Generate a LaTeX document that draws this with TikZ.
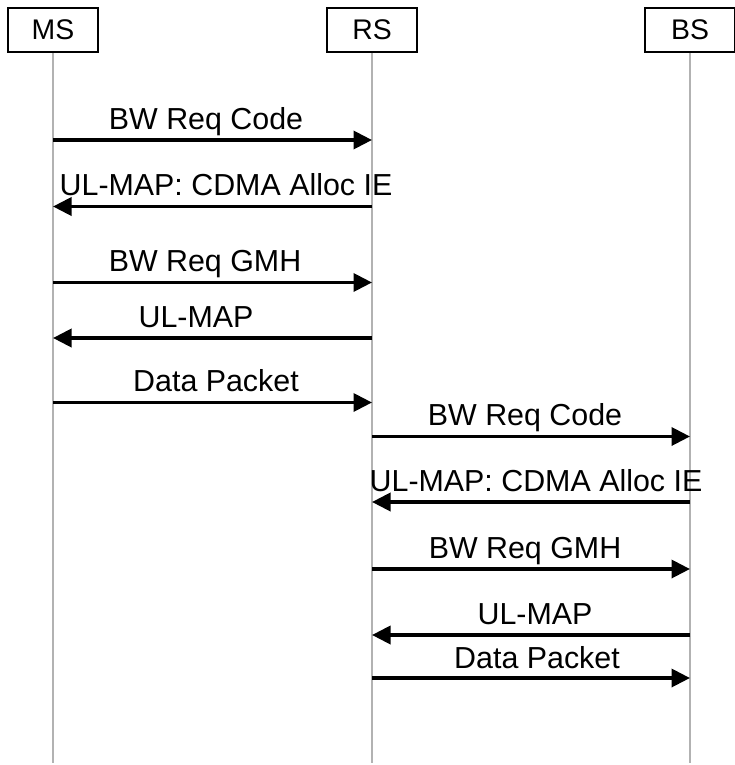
\documentclass[tikz,border=0pt]{standalone}
\usepackage{fontspec}
\setmainfont{Liberation Sans}
\usetikzlibrary{arrows.meta}
\begin{document}
\begin{tikzpicture}[x=1bp,y=-1bp,
  actor/.style={draw,line width=2bp,minimum width=90bp,minimum height=44bp,inner sep=0pt,font=\fontsize{28.5}{34}\selectfont},
  life/.style={draw=black!30,line width=2bp},
  msg/.style={line width=3.5bp,-{Triangle[length=18.5bp,width=18bp]}},
  lbl/.style={anchor=base,inner sep=0pt,font=\fontsize{30.5}{36}\selectfont}]
\useasboundingbox (0,0) rectangle (735,765);
% actors
\node[actor] (MS) at (53,30) {MS};
\node[actor] (RS) at (372,30) {RS};
\node[actor] (BS) at (690,30) {BS};
% lifeline ends
\coordinate (MSe) at (53,763);
\coordinate (RSe) at (372,763);
\coordinate (BSe) at (690,763);
\draw[life] (MS.south) -- (MSe);
\draw[life] (RS.south) -- (RSe);
\draw[life] (BS.south) -- (BSe);
% message end points
\foreach \n/\y in {1/140,2/206.5,3/282.5,4/338,5/402.5,6/436.5,7/502,8/569,9/635,10/678}{
  \coordinate (ms\n) at (53,\y);
  \coordinate (rs\n) at (372,\y);
  \coordinate (bs\n) at (690,\y);
}
\draw[msg] (ms1) -- (rs1);
\draw[msg] (rs2) -- (ms2);
\draw[msg] (ms3) -- (rs3);
\draw[msg] (rs4) -- (ms4);
\draw[msg] (ms5) -- (rs5);
\draw[msg] (rs6) -- (bs6);
\draw[msg] (bs7) -- (rs7);
\draw[msg] (rs8) -- (bs8);
\draw[msg] (bs9) -- (rs9);
\draw[msg] (rs10) -- (bs10);
% labels
\node[lbl] (l1) at (206,129) {BW Req Code};
\node[lbl] (l2) at (226,195) {UL-MAP: CDMA Alloc IE};
\node[lbl] (l3) at (205,271.5) {BW Req GMH};
\node[lbl] (l4) at (196,327) {UL-MAP};
\node[lbl] (l5) at (216,391.5) {Data Packet};
\node[lbl] (l6) at (525,425.5) {BW Req Code};
\node[lbl] (l7) at (536,491) {UL-MAP: CDMA Alloc IE};
\node[lbl] (l8) at (525,558) {BW Req GMH};
\node[lbl] (l9) at (535,624) {UL-MAP};
\node[lbl] (l10) at (537,668) {Data Packet};
\end{tikzpicture}
\end{document}
